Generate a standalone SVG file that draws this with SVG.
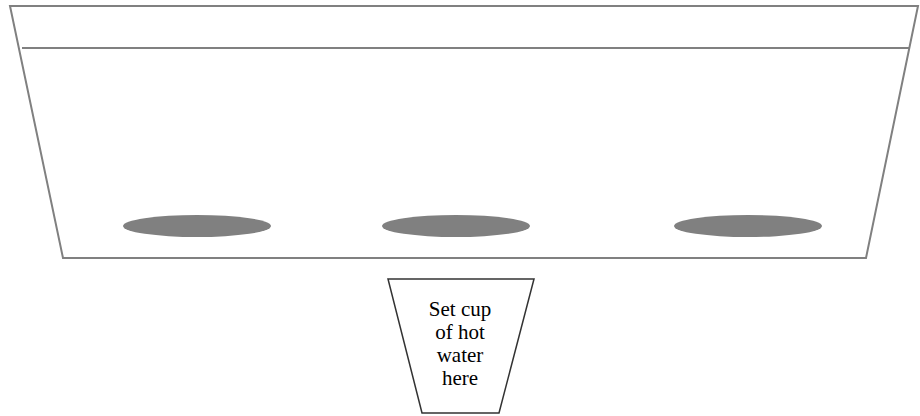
<svg xmlns="http://www.w3.org/2000/svg" width="920" height="416" viewBox="0 0 920 416">
  <style>
    .frame { fill: #ffffff; stroke: #808080; stroke-width: 2; }
    .rim { stroke: #808080; stroke-width: 2; fill: none; }
    .hole { fill: #808080; stroke: none; }
    .cup { fill: #ffffff; stroke: #333333; stroke-width: 1.5; }
    .label { font-family: "Liberation Serif", "Times New Roman", serif; font-size: 21px; fill: #000000; text-anchor: middle; }
  </style>
  <rect width="920" height="416" fill="#ffffff"/>
  <g id="tray">
    <polygon class="frame" points="10,6 918,6 866,258 63,258"/>
    <line class="rim" x1="22" y1="48" x2="909" y2="48"/>
  </g>
  <g id="hole-1"><ellipse class="hole" cx="197" cy="226" rx="74" ry="11"/></g>
  <g id="hole-2"><ellipse class="hole" cx="456" cy="226" rx="74" ry="11"/></g>
  <g id="hole-3"><ellipse class="hole" cx="748" cy="226" rx="74" ry="11"/></g>
  <g id="connectors"></g>
  <g id="cup">
    <polygon class="cup" points="388,279 534,279 499,413 422,413"/>
    <text class="label" x="460" y="316">Set cup</text>
    <text class="label" x="460" y="339">of hot</text>
    <text class="label" x="460" y="362">water</text>
    <text class="label" x="460" y="385">here</text>
  </g>
</svg>
